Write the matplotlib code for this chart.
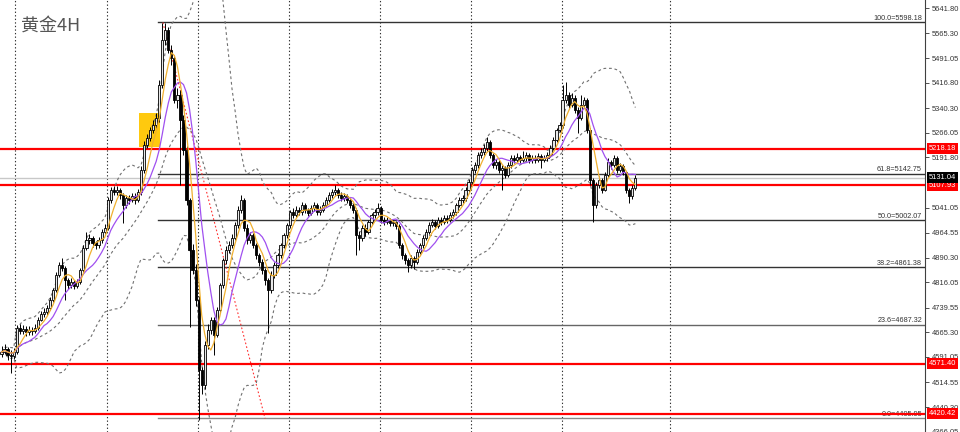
import numpy as np
import pandas as pd
import matplotlib
matplotlib.use("Agg")
import matplotlib.pyplot as plt
import matplotlib.transforms as mtransforms

# ---- data (gold, 4H candles) ----
first_open = 4600
closes = [4606, 4615, 4597, 4594, 4606,
          4678, 4669, 4675, 4666, 4672, 4669, 4678,
          4702, 4720, 4726, 4738, 4763, 4793, 4838, 4868,
          4859, 4823, 4808, 4817, 4805, 4817, 4853, 4919,
          4943, 4949, 4934, 4928, 4943, 4967, 4979,
          5064, 5094, 5088, 5094, 5079, 5049, 5070, 5064, 5076, 5064, 5088,
          5154, 5229, 5250, 5275, 5290, 5311, 5410,
          5546, 5576, 5515, 5491, 5365, 5380,
          5305, 5214, 5064, 4913, 4853, 4763, 4552, 4507,
          4627, 4672, 4702, 4657, 4733, 4808, 4883, 4913, 4928, 4949, 4988, 5034, 5064,
          4979, 4943, 4958, 4928, 4898, 4877, 4853, 4823, 4793,
          4838, 4868, 4898, 4928, 4958, 4988, 5028,
          5019, 5034, 5028, 5049, 5034, 5025, 5040, 5049, 5028, 5034, 5049, 5064, 5079, 5088, 5094,
          5079, 5070, 5076, 5064, 5049, 5034,
          4958, 4949, 4979, 4967, 4997, 5019, 5028, 5040,
          5004, 4997, 5004, 4994, 4997, 4985,
          4928, 4898, 4883, 4868, 4889, 4877, 4907,
          4928, 4949, 4967, 4988, 4997, 4985, 5004, 4997, 5010, 5004, 5019, 5028,
          5049, 5064, 5070, 5094, 5118, 5154, 5169, 5199, 5208, 5220, 5238,
          5199, 5169, 5178, 5154, 5160, 5139, 5169,
          5190, 5184, 5193, 5184, 5190, 5199, 5184, 5190, 5184, 5196, 5184, 5190, 5199,
          5220, 5244, 5275, 5290, 5365, 5380, 5350, 5371, 5335, 5311, 5350, 5365,
          5275, 5124, 5049, 5109, 5124, 5094, 5139,
          5178, 5169, 5190, 5154, 5166, 5148, 5094, 5076, 5100, 5131.04]
highs = [4624, 4630, 4621, 4612, 4618,
         4687, 4690, 4688, 4684, 4685, 4682, 4690,
         4712, 4730, 4740, 4748, 4772, 4800, 4848, 4878,
         4889, 4866, 4830, 4828, 4822, 4826, 4860, 4928,
         4967, 4960, 4955, 4940, 4952, 4975, 4990,
         5072, 5102, 5105, 5106, 5100, 5085, 5080, 5078, 5085, 5084, 5098,
         5165, 5240, 5262, 5285, 5305, 5325, 5425,
         5598, 5598, 5585, 5530, 5500, 5400,
         5395, 5320, 5225, 5070, 4930, 4870, 4775, 4560,
         4640, 4690, 4712, 4710, 4742, 4815, 4890, 4925, 4940, 4962, 4998, 5045, 5079,
         5070, 4990, 4968, 4965, 4935, 4905, 4885, 4860, 4830,
         4850, 4878, 4905, 4935, 4965, 4995, 5035,
         5040, 5045, 5042, 5058, 5055, 5040, 5048, 5058, 5055, 5045, 5058, 5072, 5088, 5098, 5109,
         5100, 5088, 5085, 5082, 5070, 5055,
         5040, 4970, 4988, 4990, 5005, 5025, 5038, 5055,
         5045, 5012, 5012, 5010, 5005, 5002,
         4990, 4935, 4905, 4890, 4898, 4895, 4915,
         4935, 4958, 4975, 4996, 5008, 5005, 5012, 5012, 5018, 5018, 5028, 5036,
         5056, 5072, 5080, 5102, 5126, 5162, 5178, 5208, 5220, 5232, 5253,
         5245, 5205, 5188, 5185, 5170, 5165, 5178,
         5198, 5200, 5205, 5200, 5210, 5208, 5205, 5200, 5198, 5205, 5202, 5200, 5208,
         5228, 5252, 5282, 5300, 5410, 5419, 5390, 5385, 5380, 5345, 5380, 5375,
         5370, 5280, 5130, 5118, 5135, 5130, 5148,
         5190, 5185, 5198, 5195, 5175, 5172, 5152, 5100, 5108, 5138]
lows = [4591, 4600, 4582, 4543, 4585,
        4600, 4660, 4660, 4655, 4658, 4657, 4662,
        4672, 4698, 4712, 4718, 4733, 4758, 4788, 4832,
        4850, 4763, 4795, 4800, 4795, 4798, 4810, 4848,
        4912, 4932, 4922, 4915, 4920, 4935, 4960,
        4972, 5055, 5078, 5080, 5068, 4994, 5040, 5052, 5058, 5052, 5058,
        5080, 5145, 5220, 5240, 5265, 5280, 5300,
        5400, 5530, 5505, 5470, 5355, 5340,
        5109, 5200, 5050, 4681, 4840, 4745, 4401, 4480,
        4495, 4615, 4660, 4597, 4650, 4725, 4800, 4870, 4905, 4920, 4942, 4980, 5025,
        4970, 4930, 4935, 4918, 4885, 4865, 4840, 4808, 4663,
        4785, 4830, 4860, 4890, 4920, 4950, 4980,
        5010, 5012, 5018, 5020, 5025, 5015, 5018, 5032, 5020, 5020, 5028, 5042, 5058, 5070, 5080,
        5070, 5060, 5062, 5055, 5040, 5025,
        4898, 4913, 4940, 4955, 4960, 4990, 5010, 5020,
        4995, 4988, 4990, 4985, 4985, 4975,
        4918, 4885, 4870, 4847, 4860, 4855, 4870,
        4900, 4920, 4942, 4960, 4982, 4975, 4980, 4988, 4990, 4995, 4998, 5010,
        5020, 5042, 5055, 5062, 5088, 5110, 5145, 5160, 5190, 5200, 5210,
        5190, 5160, 5158, 5145, 5094, 5130, 5132,
        5160, 5175, 5178, 5175, 5178, 5182, 5175, 5176, 5175, 5178, 5160, 5178, 5182,
        5192, 5215, 5238, 5268, 5282, 5355, 5340, 5345, 5325, 5265, 5305, 5340,
        5265, 5110, 4998, 5040, 5100, 5085, 5090,
        5132, 5158, 5162, 5145, 5148, 5140, 5085, 5055, 5068, 5095]

# horizontal levels
red_levels = [5218.18, 5107.93, 4571.40, 4420.42]
fib_pct = ["100.0", "61.8", "50.0", "38.2", "23.6", "0.0"]
fib_prices = [5598.18, 5142.75, 5002.07, 4861.38, 4687.32, 4405.95]
last_price = 5131.04
ytick_values = [5641.80, 5565.30, 5491.05, 5416.80, 5340.30, 5266.05, 5191.80,
                5041.05, 4964.55, 4890.30, 4816.05, 4739.55, 4665.30, 4591.05,
                4514.55, 4440.30, 4366.05]

# ---- derived series ----
c = np.array(closes, dtype=float)
o = np.array([first_open] + closes[:-1], dtype=float)
h = np.maximum(np.array(highs, dtype=float), np.maximum(o, c))
l = np.minimum(np.array(lows, dtype=float), np.minimum(o, c))
x = np.arange(len(c))

s = pd.Series(c)
ma_fast = s.rolling(5, min_periods=1).mean()
ma_slow = s.rolling(10, min_periods=1).mean()
bb_mid = s.rolling(20, min_periods=1).mean()
bb_std = s.rolling(20, min_periods=1).std(ddof=0)
bb_up = bb_mid + 2 * bb_std
bb_dn = bb_mid - 2 * bb_std

# ---- figure ----
fig = plt.figure(figsize=(9.6, 4.32), dpi=100)
ax = fig.add_axes([0, 0, 925 / 960, 1])
ax.set_xlim(-0.5, 304.5)
ax.set_ylim(4365.2, 5665.9)

# day separators
for gx in [4.45, 34.8, 64.8, 94.8, 124.8, 154.8, 184.8, 220.4]:
    ax.axvline(gx, color="#303030", lw=0.8, ls=(0, (1.2, 2)), zorder=1)

# highlight box
ax.fill_between([45.3, 52.3], 5223, 5326, color="#FFC90E", lw=0, zorder=1.5)

# fibonacci levels
fib_colors = ["#333333", "#333333", "#333333", "#333333", "#666666", "#8a8a8a"]
for pct, val, col in zip(fib_pct, fib_prices, fib_colors):
    ax.plot([51.6, 304.5], [val, val], color=col, lw=1.0, zorder=2)
    ax.text(303.5, val + 2, f"{pct}={val:.2f}", ha="right", va="bottom",
            fontsize=5.2, color="#333333", family="Liberation Sans", zorder=2)
ax.plot([53.2, 86.9], [5598.18, 4405.95], color="#ff3030", lw=0.8,
        ls=(0, (1.5, 2)), zorder=2)

# bid line
ax.axhline(last_price, color="#c8c8c8", lw=1.0, zorder=2)

# red support/resistance lines
for lv in red_levels:
    ax.axhline(lv, color="#ff0000", lw=1.6, zorder=2.5)

# bollinger bands
for band in (bb_up, bb_mid, bb_dn):
    ax.plot(x, band, color="#707070", lw=0.8, ls=(0, (2.5, 2.5)), zorder=3)

# candles
up = c >= o
ax.vlines(x, l, h, color="black", lw=0.7, zorder=4)
ax.bar(x[up], (c - o)[up], bottom=o[up], width=0.72, color="#e8e8e8",
       edgecolor="black", linewidth=0.6, zorder=5)
ax.bar(x[~up], (o - c)[~up], bottom=c[~up], width=0.72, color="black",
       edgecolor="black", linewidth=0.6, zorder=5)

# moving averages
ax.plot(x, ma_slow, color="#a050f0", lw=0.9, zorder=6)
ax.plot(x, ma_fast, color="#f0b030", lw=0.9, zorder=6)

# axis styling
for side in ["top", "left", "bottom"]:
    ax.spines[side].set_visible(False)
ax.spines["right"].set_color("#404040")
ax.spines["right"].set_linewidth(0.8)
ax.set_xticks([])
ax.yaxis.tick_right()
ax.set_yticks(ytick_values)
ax.set_yticklabels([f"{v:.2f}" for v in ytick_values])
ax.tick_params(axis="y", length=3, width=0.6, pad=2, labelsize=5.4,
               colors="#333333")
for t in ax.get_yticklabels():
    t.set_family("Liberation Sans")

# price tags on the axis
trans = mtransforms.blended_transform_factory(ax.transAxes, ax.transData)
for lv in red_levels:
    ax.text(1.004, lv, f"{lv:.2f}", transform=trans, ha="left", va="center",
            fontsize=5.4, color="white", family="Liberation Sans", clip_on=False,
            zorder=10, bbox=dict(boxstyle="square,pad=0.25", fc="#ff0000", ec="none"))
ax.text(1.004, last_price, f"{last_price:.2f}", transform=trans, ha="left",
        va="center", fontsize=5.4, color="white", family="Liberation Sans",
        clip_on=False, zorder=10,
        bbox=dict(boxstyle="square,pad=0.25", fc="black", ec="none"))

# title
ax.text(0.023, 0.94, "黄金4H", transform=ax.transAxes, fontsize=13,
        color="#555555", family=["Noto Sans CJK SC", "DejaVu Sans"],
        ha="left", va="center")

fig.savefig("out.png", dpi=100)
